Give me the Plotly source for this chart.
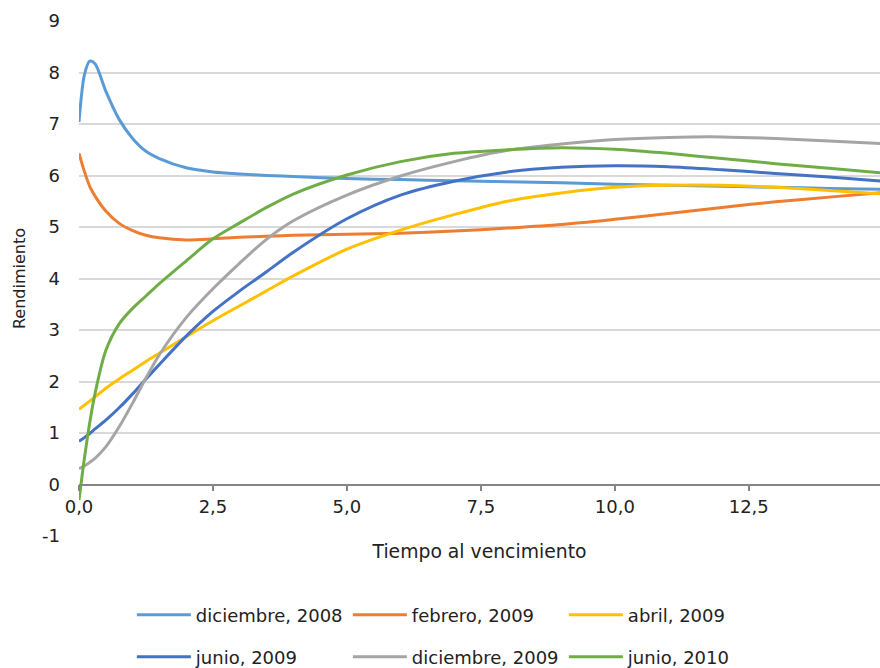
import plotly.graph_objects as go

# Plazo (años) donde se evalúa cada curva
maturity = [0, 0.1, 0.2, 0.3, 0.5, 0.75, 1, 1.25, 1.5, 2, 2.5, 3, 3.5, 4,
            5, 6, 7, 8, 9, 10, 11, 12, 13, 14, 15]

# Rendimientos (%) por fecha de la curva
dic_2008 = [7.04, 7.95, 8.22, 8.17, 7.64, 7.09, 6.72, 6.47, 6.33, 6.15, 6.07, 6.03,
            6.00, 5.98, 5.94, 5.92, 5.90, 5.88, 5.86, 5.83, 5.81, 5.79, 5.77, 5.75, 5.73]
feb_2009 = [6.43, 6.08, 5.79, 5.60, 5.31, 5.07, 4.93, 4.84, 4.79, 4.75, 4.77, 4.80,
            4.82, 4.84, 4.86, 4.88, 4.92, 4.98, 5.05, 5.15, 5.26, 5.38, 5.49, 5.58, 5.67]
abr_2009 = [1.46, 1.54, 1.62, 1.70, 1.87, 2.05, 2.22, 2.39, 2.55, 2.87, 3.18, 3.47,
            3.76, 4.05, 4.57, 4.94, 5.24, 5.50, 5.66, 5.77, 5.81, 5.81, 5.77, 5.71, 5.64]
jun_2009 = [0.84, 0.91, 0.99, 1.08, 1.25, 1.49, 1.76, 2.05, 2.33, 2.88, 3.36, 3.76,
            4.13, 4.51, 5.16, 5.62, 5.89, 6.07, 6.16, 6.19, 6.17, 6.11, 6.04, 5.97, 5.89]
dic_2009 = [0.31, 0.36, 0.43, 0.51, 0.73, 1.12, 1.58, 2.07, 2.52, 3.24, 3.80, 4.30,
            4.76, 5.12, 5.62, 5.99, 6.27, 6.49, 6.61, 6.70, 6.74, 6.75, 6.72, 6.67, 6.62]
jun_2010 = [-0.30, 0.50, 1.20, 1.77, 2.60, 3.12, 3.42, 3.66, 3.90, 4.34, 4.77, 5.08,
            5.38, 5.64, 6.01, 6.27, 6.43, 6.50, 6.54, 6.51, 6.43, 6.33, 6.23, 6.14, 6.05]

series_names = ["diciembre, 2008", "febrero, 2009", "abril, 2009",
                "junio, 2009", "diciembre, 2009", "junio, 2010"]
series_values = [dic_2008, feb_2009, abr_2009, jun_2009, dic_2009, jun_2010]
series_colors = ["#5B9BD5", "#ED7D31", "#FFC000", "#4472C4", "#A5A5A5", "#70AD47"]

x_ticks = [0, 2.5, 5, 7.5, 10, 12.5]
y_ticks = [-1, 0, 1, 2, 3, 4, 5, 6, 7, 8, 9]
y_tick_labels = ["-1", "0", "1", "2", "3", "4", "5", "6", "7", "8", "9"]

FONT = "DejaVu Sans"
TXT = "#222222"
GRID = "#D9D9D9"
AXIS = "#858585"

fig = go.Figure()
for i, (name, vals, col) in enumerate(zip(series_names, series_values, series_colors)):
    fig.add_trace(go.Scatter(
        x=maturity, y=vals, name=name, mode="lines",
        line=dict(color=col, width=3, shape="spline", smoothing=0.8),
        legend="legend" if i < 3 else "legend2",
    ))

legend_common = dict(
    orientation="h", xanchor="left", yanchor="middle",
    font=dict(family=FONT, size=18, color=TXT),
    entrywidth=147, entrywidthmode="pixels", itemwidth=54,
    bgcolor="rgba(0,0,0,0)", traceorder="normal",
)

fig.update_layout(
    width=880, height=668,
    margin=dict(l=79, r=0, t=21, b=132, autoexpand=False),
    plot_bgcolor="white", paper_bgcolor="white",
    separators=", ",
    font=dict(family=FONT, size=18, color=TXT),
    showlegend=True,
    legend=dict(x=0.066, y=-0.1534, **legend_common),
    legend2=dict(x=0.066, y=-0.235, **legend_common),
    xaxis=dict(
        range=[0, 14.95], tickvals=x_ticks, tickformat=".1f",
        anchor="free", position=0.1,
        showgrid=False, zeroline=False,
        showline=True, linecolor=AXIS, linewidth=1.5,
        ticks="outside", ticklen=6, tickwidth=1.5, tickcolor=AXIS,
        tickfont=dict(family=FONT, size=18, color=TXT),
        title=dict(text="Tiempo al vencimiento",
                   font=dict(family=FONT, size=18.8, color=TXT), standoff=28),
    ),
    xaxis2=dict(
        range=[0, 14.95], tickvals=x_ticks, overlaying="x",
        anchor="free", position=0.1,
        showgrid=False, zeroline=False, showline=False, showticklabels=False,
        ticks="inside", ticklen=6, tickwidth=1.5, tickcolor=AXIS,
    ),
    yaxis=dict(
        range=[-1, 9], tickvals=y_ticks, ticktext=y_tick_labels,
        showgrid=True, gridcolor=GRID, gridwidth=1.5,
        zeroline=False, showline=False, ticks="",
        ticklabelstandoff=18,
        tickfont=dict(family=FONT, size=18, color=TXT),
        title=dict(text="Rendimiento",
                   font=dict(family=FONT, size=16, color=TXT), standoff=12),
    ),
)

fig.write_html("out.html")
